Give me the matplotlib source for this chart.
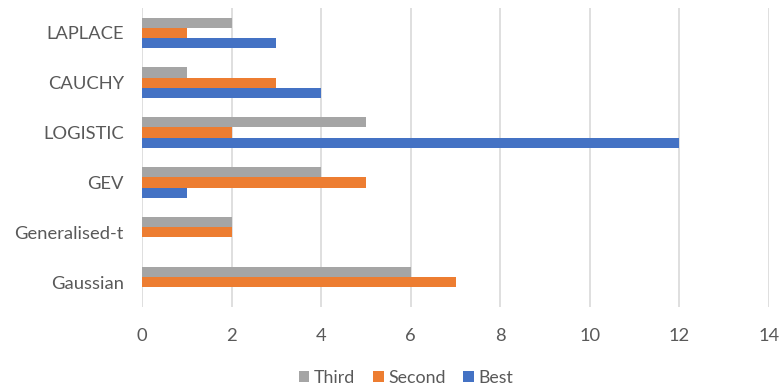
import matplotlib
matplotlib.use("Agg")
import matplotlib.pyplot as plt
import numpy as np

categories = ["Gaussian", "Generalised-t", "GEV", "LOGISTIC", "CAUCHY", "LAPLACE"]
best = [0, 0, 1, 12, 4, 3]
second = [7, 2, 5, 2, 3, 1]
third = [6, 2, 4, 5, 1, 2]
x_ticks = [0, 2, 4, 6, 8, 10, 12, 14]

colors = {"Best": "#4472C4", "Second": "#ED7D31", "Third": "#A5A5A5"}
text_color = "#595959"

plt.rcParams["font.family"] = ["Lato", "DejaVu Sans"]

fig = plt.figure(figsize=(7.81, 3.87), dpi=100)
ax = fig.add_axes([142 / 781, 1 - 307 / 387, (769 - 142) / 781, (307 - 8) / 387])

y = np.arange(len(categories))
h = 0.205
ax.barh(y - h, best, height=h, color=colors["Best"], label="Best", zorder=3)
ax.barh(y, second, height=h, color=colors["Second"], label="Second", zorder=3)
ax.barh(y + h, third, height=h, color=colors["Third"], label="Third", zorder=3)

ax.set_xlim(0, 14)
ax.set_ylim(-0.5, len(categories) - 0.5)
ax.set_xticks(x_ticks)
ax.set_xticklabels([str(t) for t in x_ticks])
ax.set_yticks(y)
ax.set_yticklabels(categories)

ax.grid(axis="x", color="#D9D9D9", linewidth=1.2, zorder=0)
for s in ax.spines.values():
    s.set_visible(False)
ax.tick_params(axis="both", length=0, colors=text_color, labelsize=13.2)
ax.tick_params(axis="x", pad=15)
ax.tick_params(axis="y", pad=13)

handles, labels = ax.get_legend_handles_labels()
order = [2, 1, 0]
fig.legend([handles[i] for i in order], [labels[i] for i in order],
           loc="center", bbox_to_anchor=(406 / 781, 1 - 378 / 387), ncol=3,
           frameon=False, fontsize=12.8, labelcolor=text_color,
           handlelength=0.6, handleheight=0.6, handletextpad=0.25, columnspacing=1.0)

fig.savefig("out.png", dpi=100)
